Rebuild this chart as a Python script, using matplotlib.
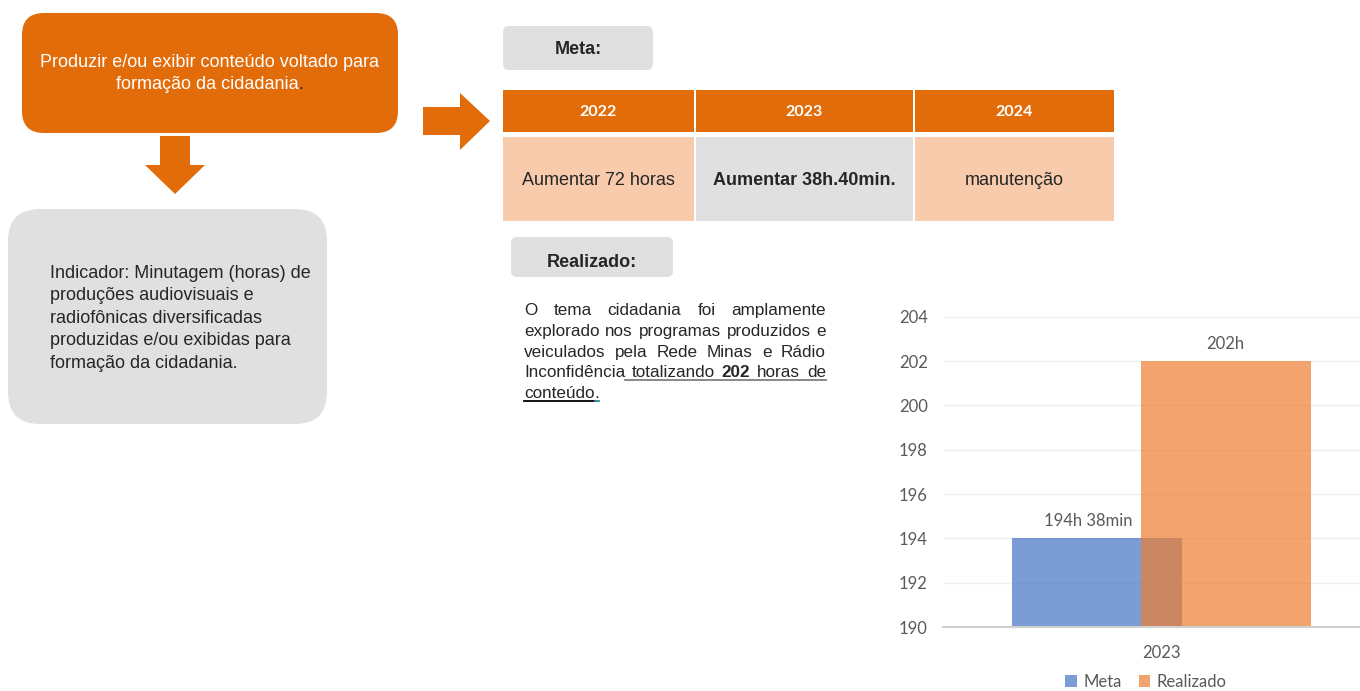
import numpy as np
from matplotlib import pyplot as plt
from matplotlib.patches import FancyBboxPatch, Rectangle, Polygon

# data
years = ['2022', '2023', '2024']
metas = ['Aumentar 72 horas', 'Aumentar 38h.40min.', 'manutenção']
categorias = ['2023']
meta_val = [194]
realizado_val = [202]
meta_lbl = ['194h 38min']
realizado_lbl = ['202h']
y_ticks = [190, 192, 194, 196, 198, 200, 202, 204]

objetivo = ['Produzir e/ou exibir conteúdo voltado para', 'formação da cidadania']
indicador = ['Indicador: Minutagem (horas) de', 'produções audiovisuais e',
             'radiofônicas diversificadas', 'produzidas e/ou exibidas para',
             'formação da cidadania.']
texto = [
    [('O', 'normal'), ('tema', 'normal'), ('cidadania', 'normal'), ('foi', 'normal'), ('amplamente', 'normal')],
    [('explorado', 'normal'), ('nos', 'normal'), ('programas', 'normal'), ('produzidos', 'normal'), ('e', 'normal')],
    [('veiculados', 'normal'), ('pela', 'normal'), ('Rede', 'normal'), ('Minas', 'normal'), ('e', 'normal'), ('Rádio', 'normal')],
    [('Inconfidência', 'normal'), ('totalizando', 'normal'), ('202', 'bold'), ('horas', 'normal'), ('de', 'normal')],
]

ORANGE = '#E36C0A'
GRAY = '#E0E0E0'
PEACH = '#F8CBAD'
DARK = '#262626'
FONT = 'Liberation Sans'
FS = 13

fig = plt.figure(figsize=(13.6, 6.91), dpi=100)
ax0 = fig.add_axes([0, 0, 1, 1])
ax0.set_xlim(0, 1360)
ax0.set_ylim(691, 0)
ax0.axis('off')
renderer = fig.canvas.get_renderer()


def rbox(x, y, w, h, r, color):
    ax0.add_patch(FancyBboxPatch((x, y), w, h, boxstyle='round,pad=0,rounding_size=%d' % r,
                                 fc=color, ec='none'))


# caixa laranja + setas
rbox(22, 13, 376, 120, 22, ORANGE)
ax0.text(210, 62, objetivo[0], ha='center', va='center', color='white', fontsize=FS, family=FONT)
l2 = ax0.text(0, 84, objetivo[1], ha='left', va='center', color='white', fontsize=FS, family=FONT)
dot = ax0.text(0, 84, '.', ha='left', va='center', color=DARK, fontsize=FS, family=FONT)
w_l2 = l2.get_window_extent(renderer).width
w_dot = dot.get_window_extent(renderer).width
l2.set_x(210 - (w_l2 + w_dot) / 2)
dot.set_x(210 - (w_l2 + w_dot) / 2 + w_l2)
ax0.add_patch(Polygon([(160, 136), (190, 136), (190, 165), (205, 165), (175, 194),
                       (145, 165), (160, 165)], fc=ORANGE, ec='none'))
ax0.add_patch(Polygon([(423, 107), (460, 107), (460, 93), (490, 121), (460, 150),
                       (460, 135), (423, 135)], fc=ORANGE, ec='none'))

# caixa cinza indicador
rbox(8, 209, 319, 215, 32, GRAY)
for i, line in enumerate(indicador):
    ax0.text(50, 278 + i * 22.4, line, ha='left', va='baseline', color=DARK, fontsize=FS, family=FONT)

# Meta:
rbox(503, 26, 150, 44, 6, GRAY)
ax0.text(578, 49, 'Meta:', ha='center', va='center', fontsize=FS, weight='bold', color=DARK, family=FONT)

# tabela
cols = [(503, 694), (696, 913), (915, 1114)]
body_colors = [PEACH, GRAY, PEACH]
for i, (x0, x1) in enumerate(cols):
    ax0.add_patch(Rectangle((x0, 90), x1 - x0, 42, fc=ORANGE, ec='none'))
    ax0.add_patch(Rectangle((x0, 137), x1 - x0, 84, fc=body_colors[i], ec='none'))
    ax0.text((x0 + x1) / 2, 112, years[i], ha='center', va='center', color='white', fontsize=11.5,
             weight='bold', family='Lato')
    ax0.text((x0 + x1) / 2, 180, metas[i], ha='center', va='center', color=DARK, fontsize=FS,
             weight='bold' if i == 1 else 'normal', family=FONT)

# Realizado:
rbox(511, 237, 162, 40, 6, GRAY)
ax0.text(592, 262, 'Realizado:', ha='center', va='center', fontsize=FS, weight='bold', color=DARK, family=FONT)

# paragrafo justificado
px0, px1 = 524, 826
probe = ax0.text(0, 0, 'explorado nos programas produzidos e', fontsize=10, family=FONT)
fs = 10 * 297 / probe.get_window_extent(renderer).width
probe.remove()
for i, words in enumerate(texto):
    yb = 315 + i * 20.8
    txts = [ax0.text(0, yb, w, ha='left', va='baseline', fontsize=fs, weight=wt, color=DARK, family=FONT)
            for w, wt in words]
    widths = [t.get_window_extent(renderer).width for t in txts]
    gap = (px1 - px0 - sum(widths)) / (len(txts) - 1)
    x = px0
    for t, w in zip(txts, widths):
        t.set_x(x)
        x += w + gap
    if i == 3:
        ax0.plot([px0 + widths[0], px1], [yb + 3, yb + 3], color='#7F7F7F', lw=1.3)
yb = 315 + 4 * 20.8
t = ax0.text(px0, yb, 'conteúdo', ha='left', va='baseline', fontsize=fs, color=DARK, family=FONT)
w = t.get_window_extent(renderer).width
t2 = ax0.text(px0 + w, yb, '.', ha='left', va='baseline', fontsize=fs, color=DARK, family=FONT)
w2 = t2.get_window_extent(renderer).width
ax0.plot([px0, px0 + w], [yb + 3, yb + 3], color='black', lw=1.3)
ax0.plot([px0 + w, px0 + w + w2], [yb + 3, yb + 3], color='#2E8B9A', lw=1.3)

# grafico
W, H = 1360, 691
ax = fig.add_axes([943 / W, (H - 627) / H, (1380 - 943) / W, (627 - 316.7) / H])
x = np.arange(len(categorias))
off, bw = 0.147, 0.39
ax.bar(x - off, np.array(meta_val) - 190, bw, bottom=190, color='#4472C4', alpha=0.7, label='Meta')
ax.bar(x + off, np.array(realizado_val) - 190, bw, bottom=190, color='#ED7D31', alpha=0.7, label='Realizado')
for xi, v, l in zip(x, meta_val, meta_lbl):
    ax.text(xi - off - 0.02, v + 0.78, l, ha='center', va='center', fontsize=12, color='#595959', family='Lato')
for xi, v, l in zip(x, realizado_val, realizado_lbl):
    ax.text(xi + off, v + 0.78, l, ha='center', va='center', fontsize=12, color='#595959', family='Lato')
ax.set_xlim(-0.5, 0.5)
ax.set_ylim(190, 204)
ax.set_yticks(y_ticks)
ax.set_xticks(x)
ax.set_xticklabels(categorias)
ax.grid(axis='y', color='#EFEFEF', lw=1)
ax.set_axisbelow(True)
for s in ['top', 'right', 'left']:
    ax.spines[s].set_visible(False)
ax.spines['bottom'].set_color('#D0D0D0')
ax.spines['bottom'].set_linewidth(1.5)
ax.tick_params(length=0, labelsize=12, labelcolor='#595959')
ax.tick_params(axis='y', pad=11)
ax.tick_params(axis='x', pad=13)
for lab in ax.get_xticklabels() + ax.get_yticklabels():
    lab.set_family('Lato')
ax.patch.set_alpha(0)
leg = ax.legend(loc='center', bbox_to_anchor=(1146 / W, (H - 682) / H), bbox_transform=fig.transFigure,
                ncol=2, frameon=False, handlelength=0.7, handleheight=0.7, columnspacing=1.0,
                handletextpad=0.4, prop={'family': 'Lato', 'size': 12})
for txt in leg.get_texts():
    txt.set_color('#595959')

fig.savefig('out.png', dpi=100)
